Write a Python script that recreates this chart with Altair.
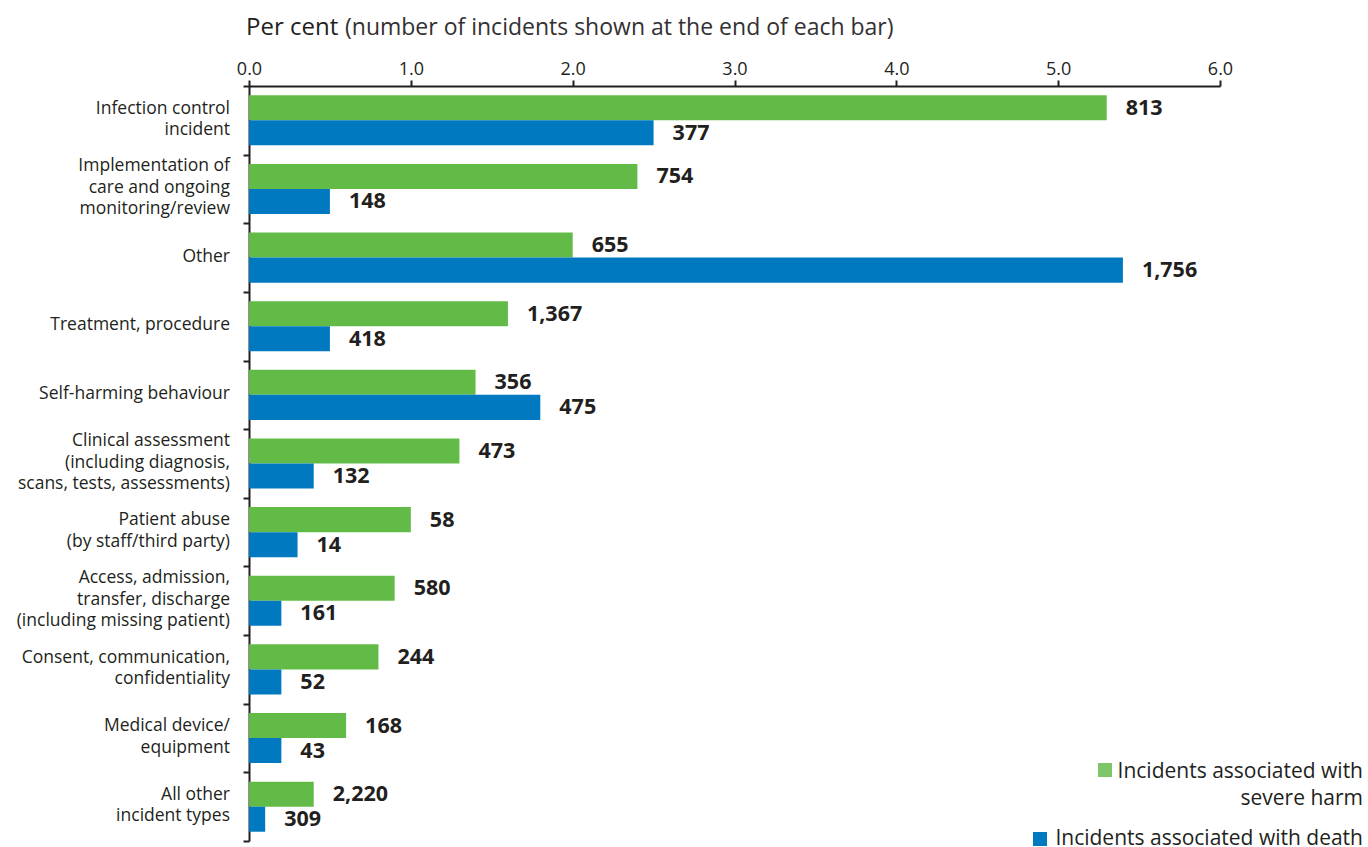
import altair as alt
import pandas as pd

categories = [
    "Infection control\nincident",
    "Implementation of\ncare and ongoing\nmonitoring/review",
    "Other",
    "Treatment, procedure",
    "Self-harming behaviour",
    "Clinical assessment\n(including diagnosis,\nscans, tests, assessments)",
    "Patient abuse\n(by staff/third party)",
    "Access, admission,\ntransfer, discharge\n(including missing patient)",
    "Consent, communication,\nconfidentiality",
    "Medical device/\nequipment",
    "All other\nincident types",
]
severe_pct = [5.3, 2.4, 2.0, 1.6, 1.4, 1.3, 1.0, 0.9, 0.8, 0.6, 0.4]
death_pct = [2.5, 0.5, 5.4, 0.5, 1.8, 0.4, 0.3, 0.2, 0.2, 0.2, 0.1]
severe_n = ["813", "754", "655", "1,367", "356", "473", "58", "580", "244", "168", "2,220"]
death_n = ["377", "148", "1,756", "418", "475", "132", "14", "161", "52", "43", "309"]
series_keys = ["severe", "death"]
series_labels = [["Incidents associated with", "severe harm"], ["Incidents associated  with death"]]
colors = ["#62bb46", "#0079c1"]
legend_colors = ["#7fc66b", "#0079c1"]
x_ticks = [0, 1, 2, 3, 4, 5, 6]

rows = []
for i, c in enumerate(categories):
    rows.append({"cat": c, "series": "severe", "pct": severe_pct[i], "n": severe_n[i]})
    rows.append({"cat": c, "series": "death", "pct": death_pct[i], "n": death_n[i]})
df = pd.DataFrame(rows)

cat_df = pd.DataFrame({
    "cat": categories,
    "nlines": [c.count("\n") + 1 for c in categories],
})

FONT = "Open Sans"
DARK = "#231f20"
LH = 21.5

x_enc = alt.X(
    "pct:Q",
    scale=alt.Scale(domain=[0, 6], nice=False, zero=True),
    axis=alt.Axis(
        orient="top", values=x_ticks, format=".1f", title=None, grid=False,
        labelFont=FONT, labelFontSize=18, labelColor=DARK, labelPadding=2,
        labelFlush=False,
        tickSize=6, tickWidth=2, tickColor="#231f20",
        domainColor="#231f20", domainWidth=2,
    ),
)
y_enc = alt.Y(
    "cat:N", sort=categories,
    scale=alt.Scale(paddingInner=0, paddingOuter=0),
    axis=alt.Axis(
        title=None, labels=False, tickBand="extent", tickSize=6, tickWidth=2,
        tickColor="#231f20", domainColor="#231f20", domainWidth=2,
    ),
)
yoff = alt.YOffset("series:N", sort=series_keys,
                   scale=alt.Scale(paddingInner=0, paddingOuter=0.37))
color = alt.Color("series:N", scale=alt.Scale(domain=series_keys, range=colors), legend=None)

base = alt.Chart(df)
bars = base.mark_bar().encode(x=x_enc, y=y_enc, yOffset=yoff, color=color)
labels = base.mark_text(
    align="left", baseline="middle", dx=19, dy=1, font=FONT, fontSize=21.5,
    fontWeight="bold", color=DARK,
).encode(x="pct:Q", y=alt.Y("cat:N", sort=categories), yOffset=yoff, text="n:N")

cat_layers = []
for n in (1, 2, 3):
    cat_layers.append(
        alt.Chart(cat_df).transform_filter(alt.datum.nlines == n).mark_text(
            align="right", baseline="middle", font=FONT, fontSize=17.5, color=DARK,
            lineHeight=LH, lineBreak="\n", dy=-(n - 1) * LH / 2 - 1,
        ).encode(x=alt.value(-19), y=alt.Y("cat:N", sort=categories), text="cat:N")
    )

one = pd.DataFrame({"k": [0]})
title1 = alt.Chart(one).mark_text(
    align="left", baseline="alphabetic", font=FONT, fontSize=24, color=DARK
).encode(x=alt.value(-3), y=alt.value(-51), text=alt.value("Per cent"))
title2 = alt.Chart(one).mark_text(
    align="left", baseline="alphabetic", font=FONT, fontSize=23, color="#333132"
).encode(x=alt.value(96), y=alt.value(-51),
         text=alt.value("(number of incidents shown at the end of each bar)"))

leg_sq1 = alt.Chart(one).mark_square(size=196, opacity=1, color=legend_colors[0]).encode(
    x=alt.value(856), y=alt.value(684))
leg_sq2 = alt.Chart(one).mark_square(size=196, opacity=1, color=legend_colors[1]).encode(
    x=alt.value(791), y=alt.value(753))
leg_t1 = alt.Chart(one).mark_text(
    align="right", baseline="alphabetic", font=FONT, fontSize=21, color=DARK, lineHeight=27
).encode(x=alt.value(1114), y=alt.value(692), text=alt.value(series_labels[0]))
leg_t2 = alt.Chart(one).mark_text(
    align="right", baseline="alphabetic", font=FONT, fontSize=21, color=DARK
).encode(x=alt.value(1114), y=alt.value(759), text=alt.value(series_labels[1]))

chart = alt.layer(bars, labels, *cat_layers, title1, title2, leg_sq1, leg_sq2, leg_t1, leg_t2).properties(
    width=971, height=755,
    background="white",
    autosize=alt.AutoSizeParams(type="none"),
    padding={"left": 249, "top": 86, "right": 148, "bottom": 6},
).configure_view(stroke=None)

chart.save("out.html", embed_options={"renderer": "svg", "actions": False})
